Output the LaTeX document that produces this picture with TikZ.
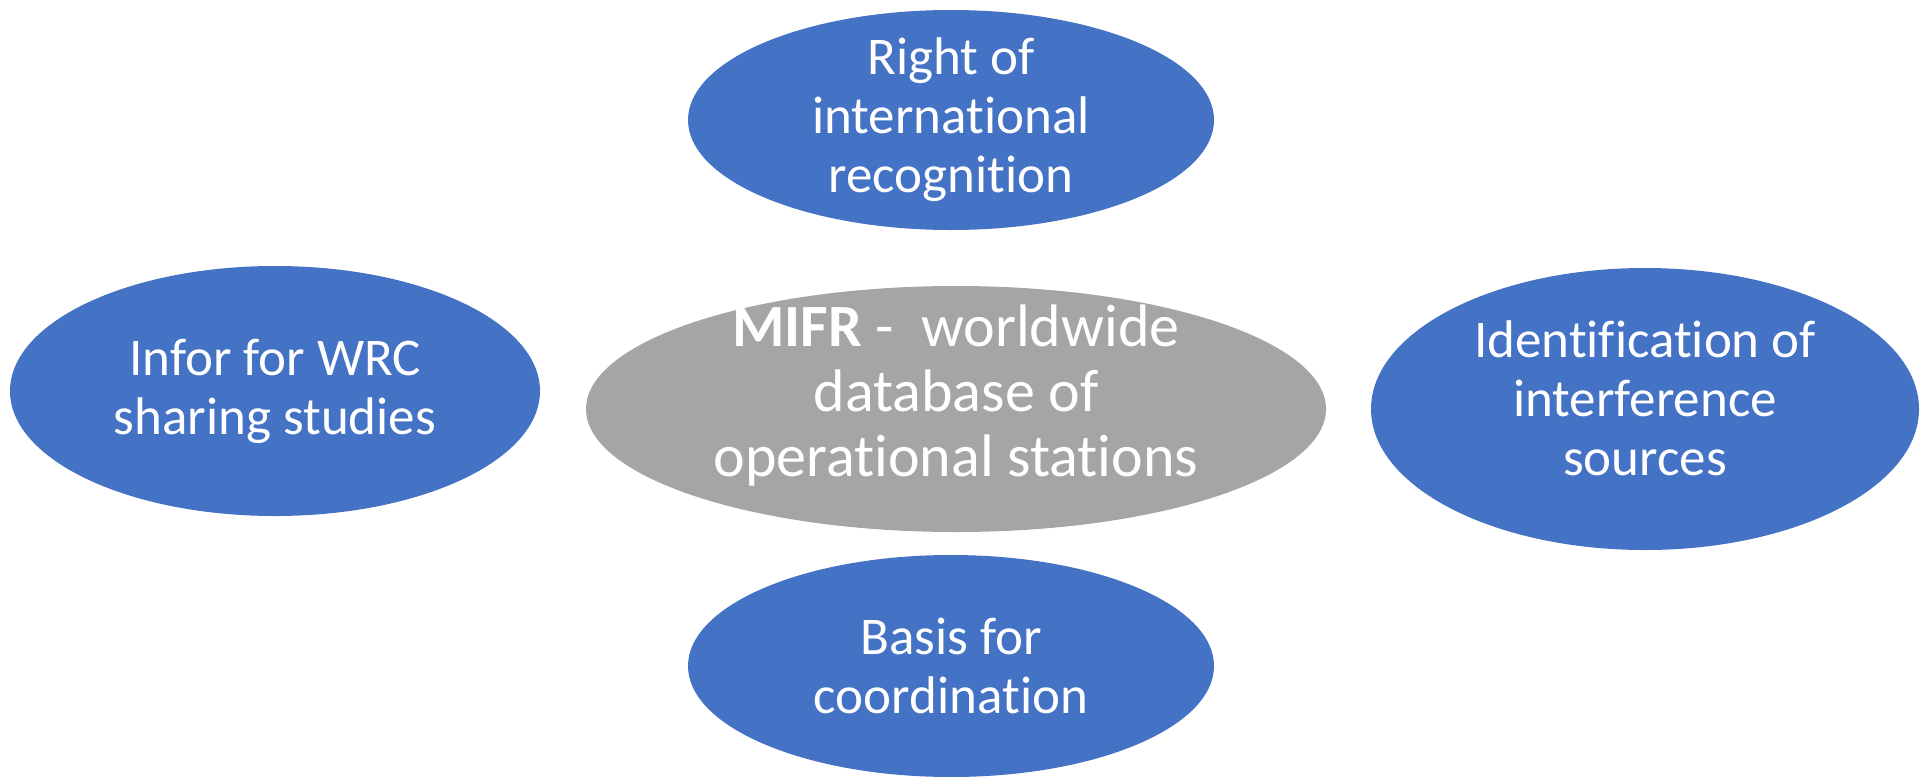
\documentclass[tikz,border=0pt]{standalone}
\usepackage{fontspec}
\setmainfont{Carlito}[Ligatures=NoCommon]
\definecolor{bubbleblue}{HTML}{4472C4}
\definecolor{bubblegray}{HTML}{A5A5A5}
\tikzset{
  bubble/.style={ellipse, fill=bubbleblue, inner sep=0pt},
  txt/.style={text=white, align=center, font=\fontsize{26.5}{29.5}\selectfont}
}
\usetikzlibrary{shapes.geometric}
\begin{document}
\begin{tikzpicture}[x=0.5pt,y=-0.5pt]
    \useasboundingbox (0,0) rectangle (1926,776);
    % centre
    \node[bubble, fill=bubblegray, minimum width=370pt, minimum height=123pt] (mifr) at (956,409) {};
    \node[txt, font=\fontsize{30}{32.5}\selectfont] (mifrT) at (956,395) {\textbf{MIFR} -\ \ worldwide\\database of\\operational stations};
    % outer ones
    \foreach \name/\x/\y/\w/\h/\dy/\label in {
        right/951/120/263/110/0/{Right of\\international\\recognition},
        wrc/275/391/265/125/0/{Infor for WRC\\sharing studies},
        interf/1645/409/274/141/-11/{Identification of\\interference\\sources},
        coord/951/666/263/111/0/{Basis for\\coordination}}{
      \node[bubble, minimum width=\w pt, minimum height=\h pt] (\name) at (\x,\y) {};
      \node[txt] (\name T) at (\x,\y+\dy) {\label};
    }
\end{tikzpicture}
\end{document}
